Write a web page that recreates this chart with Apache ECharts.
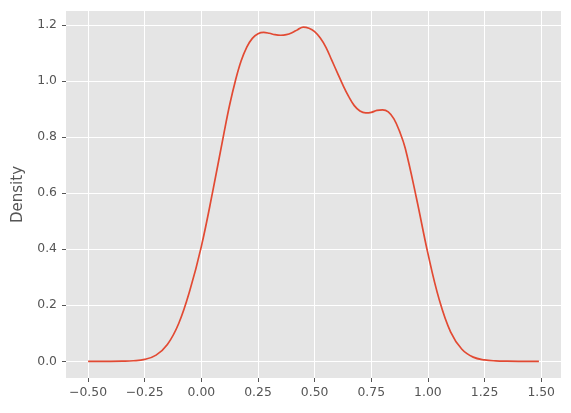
<!DOCTYPE html>
<html><head><meta charset="utf-8">
<script src="https://cdn.jsdelivr.net/npm/echarts@6/dist/echarts.min.js"></script>
<style>html,body{margin:0;padding:0;background:#fff}#c{width:571px;height:413px}</style>
</head><body><div id="c"></div>
<script>
const xValues = [-0.50,-0.45,-0.40,-0.35,-0.30,-0.25,-0.20,-0.15,-0.10,-0.05,0.00,0.05,0.10,0.125,0.15,0.175,0.20,0.225,0.25,0.275,0.30,0.325,0.35,0.375,0.40,0.425,0.45,0.475,0.50,0.525,0.55,0.575,0.60,0.625,0.65,0.675,0.70,0.725,0.75,0.775,0.80,0.825,0.85,0.875,0.90,0.95,1.00,1.05,1.10,1.15,1.20,1.25,1.30,1.35,1.40,1.45,1.49];
const density = [0,0,0,0.0005,0.002,0.007,0.022,0.06,0.135,0.255,0.41,0.605,0.815,0.915,1.0,1.07,1.12,1.152,1.168,1.173,1.17,1.165,1.163,1.165,1.172,1.183,1.192,1.188,1.176,1.153,1.12,1.075,1.03,0.985,0.945,0.912,0.893,0.886,0.888,0.895,0.897,0.89,0.865,0.82,0.76,0.58,0.385,0.22,0.105,0.043,0.015,0.005,0.0015,0.0004,0,0,0];
const xTicks = [-0.5,-0.25,0,0.25,0.5,0.75,1.0,1.25,1.5];
const yTicks = [0,0.2,0.4,0.6,0.8,1.0,1.2];

const chart = echarts.init(document.getElementById('c'), null, {renderer:'canvas'});
const font = 'DejaVu Sans';
chart.setOption({
  animation:false,
  grid:{left:66,right:10,top:11,bottom:35,show:true,backgroundColor:'#E5E5E5',borderWidth:0},
  xAxis:{type:'value',min:-0.5975,max:1.5875,
    axisLine:{show:false,onZero:false},
    axisTick:{show:true,length:4,lineStyle:{color:'#555555'},customValues:xTicks},
    axisLabel:{color:'#555555',fontFamily:font,fontSize:12.4,margin:9,customValues:xTicks,
      formatter:v=>{const s=Math.abs(v).toFixed(2);return v<0?'\u2212'+s:s;}},
    splitLine:{show:true,lineStyle:{color:'#ffffff',width:1}}},
  yAxis:{type:'value',min:-0.0595,max:1.2495,
    name:'Density',nameLocation:'middle',nameGap:40,nameRotate:90,
    nameTextStyle:{color:'#555555',fontFamily:font,fontSize:15},
    axisLine:{show:false,onZero:false},
    axisTick:{show:true,length:4,lineStyle:{color:'#555555'},customValues:yTicks},
    axisLabel:{color:'#555555',fontFamily:font,fontSize:12.4,margin:9,customValues:yTicks,
      formatter:v=>v.toFixed(1)},
    splitLine:{show:true,lineStyle:{color:'#ffffff',width:1}}},
  series:[{type:'line',data:xValues.map((x,i)=>[x,density[i]]),smooth:0.4,showSymbol:false,
    lineStyle:{color:'#E24A33',width:1.7},itemStyle:{color:'#E24A33'}}]
});
</script></body></html>
